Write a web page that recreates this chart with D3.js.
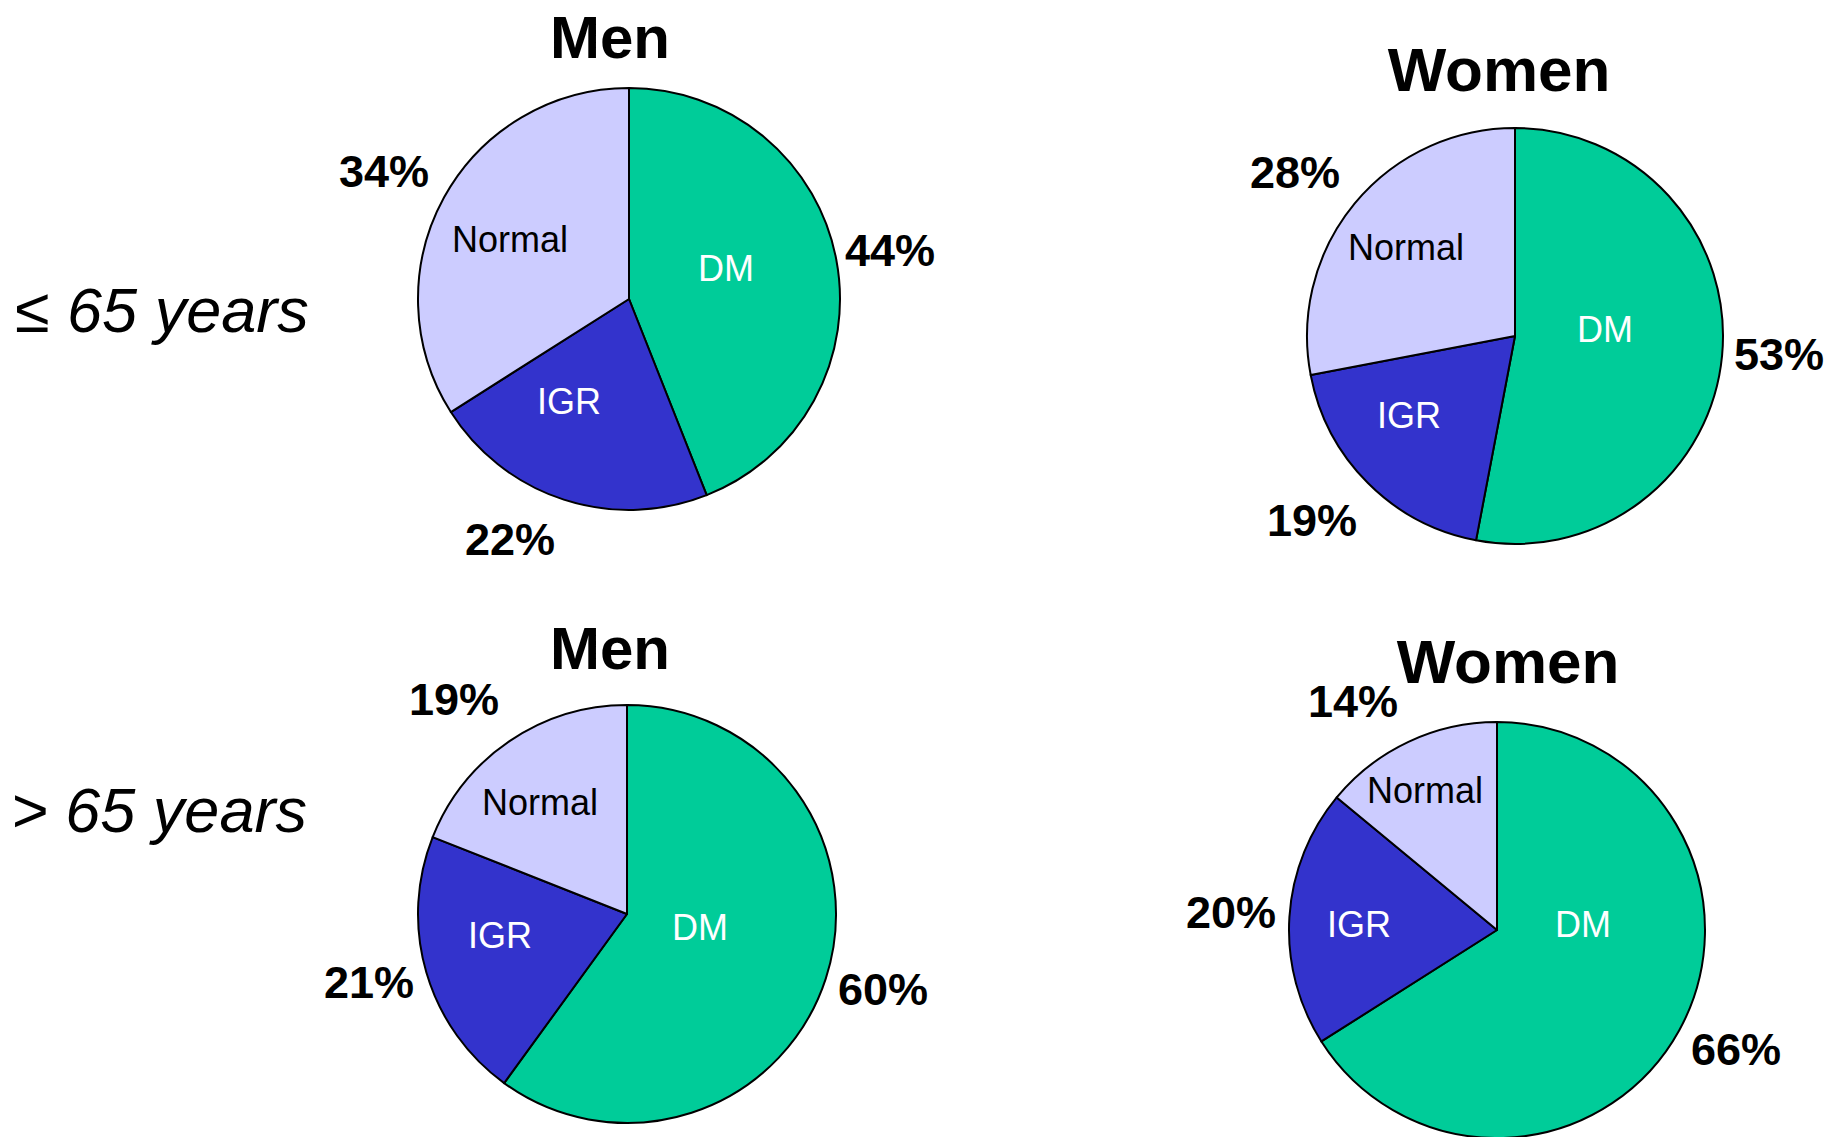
<!DOCTYPE html>
<html>
<head>
<meta charset="utf-8">
<script src="https://cdn.jsdelivr.net/npm/d3@7"></script>
<style>
  html, body { margin: 0; padding: 0; background: #ffffff; }
  svg { display: block; }
  text { font-family: "Liberation Sans", Arial, Helvetica, sans-serif; }
</style>
</head>
<body>
<svg id="chart" width="1830" height="1137"></svg>
<script>
// Glucose-status categories, in drawing order (clockwise from 12 o'clock)
const categories = ["DM", "IGR", "Normal"];

// Share of each category (%) per sex and age group
const menUpTo65   = [44, 22, 34];
const womenUpTo65 = [53, 19, 28];
const menOver65   = [60, 21, 19];
const womenOver65 = [66, 20, 14];

const ageGroups = ["\u2264 65 years", "> 65 years"];
const sexes = ["Men", "Women"];

// Slice fills and the colour of the category name written inside each slice
const fills = { DM: "#00cc99", IGR: "#3333cc", Normal: "#ccccff" };
const innerInk = { DM: "#ffffff", IGR: "#ffffff", Normal: "#000000" };

// Panel layout: pie centre, radius, title offset, and label offsets from the centre
const panels = [
  { values: menUpTo65, sex: 0, cx: 629, cy: 299, r: 211, title: [-19, -241], titleSize: 60,
    pct:   { DM: [261, -33], IGR: [-119, 256], Normal: [-245, -112] },
    inner: { DM: [97, -18], IGR: [-60, 115], Normal: [-119, -47] } },
  { values: womenUpTo65, sex: 1, cx: 1515, cy: 336, r: 208, title: [-16, -245], titleSize: 62,
    pct:   { DM: [264, 34], IGR: [-203, 200], Normal: [-220, -148] },
    inner: { DM: [90, 6], IGR: [-106, 92], Normal: [-109, -76] } },
  { values: menOver65, sex: 0, cx: 627, cy: 914, r: 209, title: [-17, -245], titleSize: 60,
    pct:   { DM: [256, 91], IGR: [-258, 84], Normal: [-173, -199] },
    inner: { DM: [73, 26], IGR: [-127, 34], Normal: [-87, -99] } },
  { values: womenOver65, sex: 1, cx: 1497, cy: 930, r: 208, title: [11, -247], titleSize: 62,
    pct:   { DM: [239, 135], IGR: [-266, -2], Normal: [-144, -213] },
    inner: { DM: [86, 7], IGR: [-138, 7], Normal: [-72, -127] } }
];

const rowLabels = [ { x: 15, y: 332 }, { x: 11, y: 832 } ];

const svg = d3.select("#chart");

const pie = d3.pie().sort(null).value(d => d.value);

panels.forEach(p => {
  const g = svg.append("g").attr("transform", `translate(${p.cx},${p.cy})`);
  const rows = categories.map((c, i) => ({ cat: c, value: p.values[i] }));
  const arcs = pie(rows);
  const arc = d3.arc().innerRadius(0).outerRadius(p.r);

  g.selectAll("path.slice")
    .data(arcs)
    .join("path")
    .attr("class", "slice")
    .attr("d", arc)
    .attr("fill", d => fills[d.data.cat])
    .attr("stroke", "#000")
    .attr("stroke-width", 2)
    .attr("stroke-linejoin", "round");

  // Category names inside the slices
  g.selectAll("text.inner")
    .data(arcs)
    .join("text")
    .attr("class", "inner")
    .attr("x", d => p.inner[d.data.cat][0])
    .attr("y", d => p.inner[d.data.cat][1])
    .attr("text-anchor", "middle")
    .attr("font-size", 36)
    .attr("fill", d => innerInk[d.data.cat])
    .text(d => d.data.cat);

  // Percentages outside the pie
  g.selectAll("text.pct")
    .data(arcs)
    .join("text")
    .attr("class", "pct")
    .attr("x", d => p.pct[d.data.cat][0])
    .attr("y", d => p.pct[d.data.cat][1])
    .attr("text-anchor", "middle")
    .attr("font-size", 45)
    .attr("font-weight", "bold")
    .attr("fill", "#000")
    .text(d => `${d.data.value}%`);

  // Panel title
  g.append("text")
    .attr("x", p.title[0])
    .attr("y", p.title[1])
    .attr("text-anchor", "middle")
    .attr("font-size", p.titleSize)
    .attr("font-weight", "bold")
    .attr("fill", "#000")
    .text(sexes[p.sex]);
});

// Age-group row labels
svg.selectAll("text.row")
  .data(ageGroups)
  .join("text")
  .attr("class", "row")
  .attr("x", (d, i) => rowLabels[i].x)
  .attr("y", (d, i) => rowLabels[i].y)
  .attr("font-size", 63)
  .attr("font-style", "italic")
  .attr("fill", "#000")
  .text(d => d);
</script>
</body>
</html>
